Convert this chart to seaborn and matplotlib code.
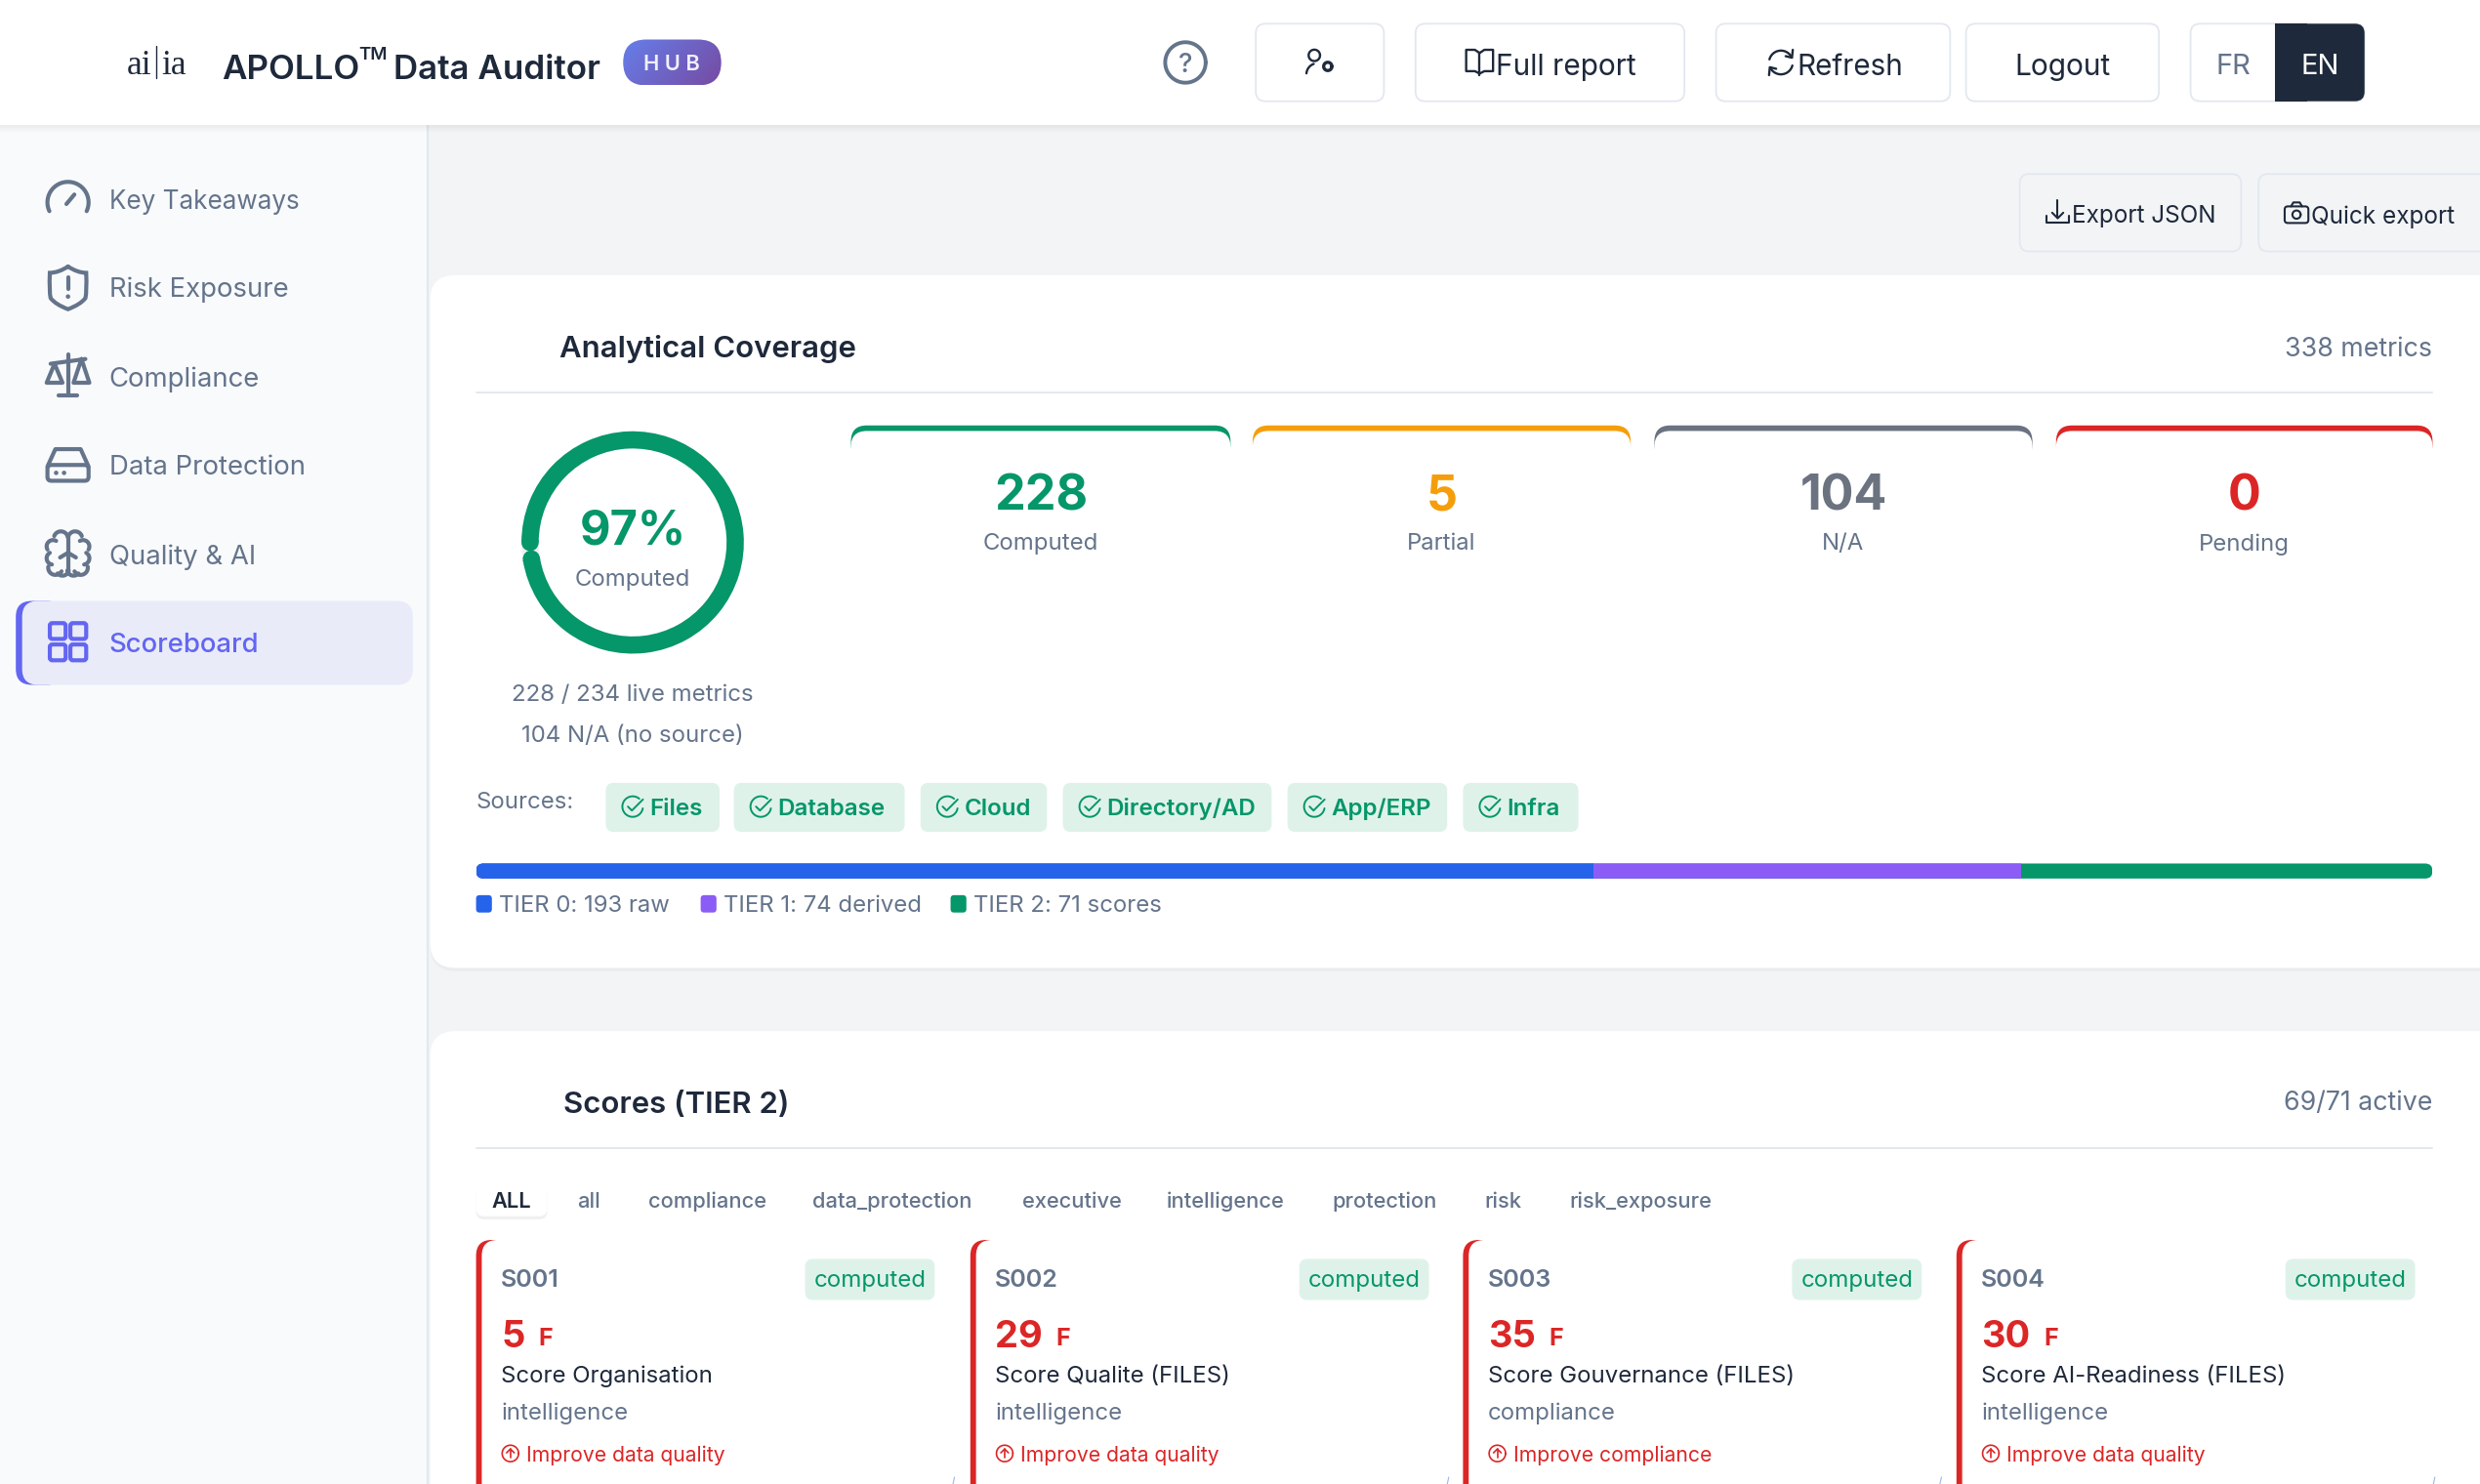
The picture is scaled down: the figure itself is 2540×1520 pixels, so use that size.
import numpy as np
import matplotlib
matplotlib.use("Agg")
import matplotlib.pyplot as plt
import seaborn as sns
from matplotlib.colors import LinearSegmentedColormap
from matplotlib.patches import Circle, FancyBboxPatch, PathPatch, Rectangle
from matplotlib.path import Path

# === Data ===
nav_labels = ["Key Takeaways", "Risk Exposure", "Compliance", "Data Protection", "Quality & AI", "Scoreboard"]
source_labels = ["Files", "Database", "Cloud", "Directory/AD", "App/ERP", "Infra"]
stat_values = [228, 5, 104, 0]
stat_labels = ["Computed", "Partial", "N/A", "Pending"]
live_metrics = 234
tier_names = ["TIER 0: 193 raw", "TIER 1: 74 derived", "TIER 2: 71 scores"]
tier_values = [193, 74, 71]
tab_labels = ["all", "compliance", "data_protection", "executive", "intelligence", "protection", "risk", "risk_exposure"]
score_ids = ["S001", "S002", "S003", "S004"]
score_values = [5, 29, 35, 30]
score_names = ["Score Organisation", "Score Qualite (FILES)", "Score Gouvernance (FILES)", "Score AI-Readiness (FILES)"]
score_cats = ["intelligence", "intelligence", "compliance", "intelligence"]
score_hints = ["Improve data quality", "Improve data quality", "Improve compliance", "Improve data quality"]

# === Colours ===
SLATE = "#64748b"
DARK = "#1e293b"
BORDER = "#e2e8f0"
GREEN = "#059669"
CHIP = "#dff2ea"
RED = "#dc2626"
INDIGO = "#6366f1"
stat_colors = [GREEN, "#f59e0b", "#6b7280", RED]
tier_colors = ["#2563eb", "#8b5cf6", GREEN]

sns.set_theme(style="white")
plt.rcParams["font.family"] = ["Inter", "Noto Sans", "DejaVu Sans"]

# all layout is in screenshot units, 1568 wide
W, H = 2540, 1520
S = W / 1568
fig = plt.figure(figsize=(W / 100, H / 100), dpi=100)
ax = fig.add_axes([0, 0, 1, 1])
ax.set_xlim(0, W / S)
ax.set_ylim(H / S, 0)
ax.axis("off")


# === Helpers ===
def T(x, y, s, size=14.8, color=SLATE, weight="normal", ha="left", **kw):
    return ax.text(x, y, s, fontsize=size * S * 0.72, color=color, fontweight=weight,
                   ha=ha, va="center_baseline", zorder=6, **kw)


def box(x0, y0, x1, y1, r=6, fc="white", ec="none", lw=1.3, z=2, alpha=None):
    p = FancyBboxPatch((x0, y0), x1 - x0, y1 - y0, boxstyle=f"round,pad=0,rounding_size={r}",
                       fc=fc, ec=ec, lw=lw, zorder=z, alpha=alpha)
    ax.add_patch(p)
    return p


def line(xs, ys, color=SLATE, lw=3, z=5):
    ax.plot(xs, ys, color=color, lw=lw, solid_capstyle="round", solid_joinstyle="round", zorder=z)


def arc(cx, cy, r, a0=0, a1=360, color=SLATE, lw=3, z=5):
    t = np.radians(np.linspace(a0, a1, 50))
    line(cx + r * np.cos(t), cy - r * np.sin(t), color, lw, z)


def dot(cx, cy, r=1.4, color=SLATE):
    ax.add_patch(Circle((cx, cy), r, fc=color, ec="none", zorder=5))


def curve(verts, color=SLATE, lw=3):
    codes = [Path.MOVETO] + [Path.CURVE3] * (len(verts) - 1)
    ax.add_patch(PathPatch(Path(verts, codes), fc="none", ec=color, lw=lw, zorder=5, capstyle="round"))


# === Nav icons ===
def icon_gauge(cx, cy):
    arc(cx, cy + 2, 13, -25, 205)
    line([cx - 1, cx + 4], [cy + 3, cy - 3])


def icon_shield(cx, cy):
    curve([(cx, cy - 13), (cx + 6, cy - 9), (cx + 11.5, cy - 9), (cx + 12, cy + 3), (cx + 11, cy + 7),
           (cx + 8, cy + 11), (cx, cy + 14), (cx - 8, cy + 11), (cx - 11, cy + 7), (cx - 12, cy + 3),
           (cx - 11.5, cy - 9), (cx - 6, cy - 9), (cx, cy - 13)])
    line([cx, cx], [cy - 6, cy + 1])
    dot(cx, cy + 6)


def icon_scales(cx, cy):
    line([cx, cx], [cy - 14, cy + 12])
    line([cx - 6, cx + 6], [cy + 12, cy + 12])
    line([cx - 11, cx + 11], [cy - 8, cy - 11])
    for sx, top in [(-8.5, -8), (8.5, -11)]:
        line([cx + sx, cx + sx - 5, cx + sx + 5, cx + sx], [cy + top, cy + 4, cy + 4, cy + top])


def icon_drive(cx, cy):
    box(cx - 13, cy, cx + 13, cy + 10, r=2.5, fc="none", ec=SLATE, lw=3, z=5)
    line([cx - 13, cx - 8, cx + 8, cx + 13], [cy + 1, cy - 10, cy - 10, cy + 1])
    dot(cx - 7.5, cy + 5)
    dot(cx - 2.5, cy + 5)


def icon_brain(cx, cy):
    for sgn in (-1, 1):
        for dx, dy, r, a0, a1 in [(4.5, -10, 4.5, 20, 170), (9.5, -5, 4, -30, 120),
                                  (9.5, 2.5, 4, -80, 60), (8, 8.5, 4.5, -150, 10), (3.5, 9.5, 4, -170, -40)]:
            if sgn > 0:
                arc(cx + dx, cy + dy, r, a0, a1)
            else:
                arc(cx - dx, cy + dy, r, 180 - a0, 180 - a1)
    line([cx, cx], [cy - 12, cy + 12])
    line([cx - 5, cx, cx + 5], [cy + 2, cy - 1, cy + 2])


def icon_grid(cx, cy):
    for x0 in (cx - 11.5, cx + 1.5):
        for y0 in (cy - 12, cy + 1.5):
            box(x0, y0, x0 + 10, y0 + 10, r=1.6, fc="none", ec=INDIGO, lw=3, z=5)


# === Small button icons ===
def icon_check(cx, cy, r=6.5, color=GREEN):
    arc(cx, cy, r, 50, 350, color, 1.4)
    line([cx - 3, cx - 0.5, cx + 6.5], [cy, cy + 2.5, cy - 4.5], color, 1.4)


def icon_up(cx, cy, color=RED):
    arc(cx, cy, 5.2, 0, 360, color, 1.2)
    line([cx, cx], [cy + 2.8, cy - 2.6], color, 1.2)
    line([cx - 2.4, cx, cx + 2.4], [cy - 0.4, cy - 2.8, cy - 0.4], color, 1.2)


def icon_user_gear(cx, cy):
    arc(cx - 3, cy - 4.5, 3.6, 0, 360, DARK, 1.7)
    arc(cx - 1, cy + 7.5, 7, 110, 175, DARK, 1.7)
    arc(cx + 5.5, cy + 2.5, 2.6, 0, 360, DARK, 2.4)


def icon_book(cx, cy):
    line([cx, cx], [cy - 6, cy + 8], DARK, 1.7)
    line([cx, cx - 3, cx - 8.5, cx - 8.5, cx - 3, cx], [cy - 6, cy - 8, cy - 8, cy + 5.5, cy + 5.5, cy + 7], DARK, 1.7)
    line([cx, cx + 3, cx + 8.5, cx + 8.5, cx + 3, cx], [cy - 6, cy - 8, cy - 8, cy + 5.5, cy + 5.5, cy + 7], DARK, 1.7)


def icon_refresh(cx, cy):
    arc(cx, cy, 7.5, 25, 165, DARK, 1.7)
    arc(cx, cy, 7.5, 205, 345, DARK, 1.7)
    line([cx + 3, cx + 7, cx + 7.5], [cy - 4, cy - 3, cy - 8], DARK, 1.7)
    line([cx - 3, cx - 7, cx - 7.5], [cy + 4, cy + 3, cy + 8], DARK, 1.7)


def icon_download(cx, cy):
    line([cx, cx], [cy - 8, cy + 3], DARK, 1.5)
    line([cx - 3.5, cx, cx + 3.5], [cy, cy + 3.5, cy], DARK, 1.5)
    line([cx - 7, cx - 7, cx + 7, cx + 7], [cy + 2, cy + 6.5, cy + 6.5, cy + 2], DARK, 1.5)


def icon_camera(cx, cy):
    box(cx - 7.5, cy - 4.5, cx + 7.5, cy + 6, r=2, fc="none", ec=DARK, lw=1.5, z=5)
    line([cx - 3.5, cx - 2, cx + 2, cx + 3.5], [cy - 4.5, cy - 7, cy - 7, cy - 4.5], DARK, 1.5)
    arc(cx, cy + 0.7, 2.6, 0, 360, DARK, 1.5)


# === Page background ===
ax.add_patch(Rectangle((0, 0), 1568, 940, fc="#f3f4f6", ec="none", zorder=0))
ax.add_patch(Rectangle((0, 79), 270, 861, fc="#f9fafc", ec="none", zorder=1))
line([270.5, 270.5], [79, 940], BORDER, 1.6, 1.5)

# header bar with soft shadow
ax.add_patch(Rectangle((0, 0), 1568, 79, fc="white", ec="none", zorder=3))
for i in range(1, 6):
    ax.add_patch(Rectangle((0, 79), 1568, i * 0.9, fc="black", ec="none", alpha=0.012, zorder=2.5))

T(80, 39.5, "ai", 22, DARK, family=["Liberation Serif"])
line([98.7, 98.7], [29, 49.5], DARK, 1)
T(102, 39.5, "ia", 22, DARK, family=["Liberation Serif"])
T(140, 42.5, "APOLLO", 21.6, DARK, "semibold")
T(226.5, 33.5, "TM", 11.5, DARK, "semibold")
T(249, 42.5, "Data Auditor", 21.6, DARK, "semibold")

hub = box(394, 25, 456, 54, r=14.5, fc="none", z=4)
grad = np.linspace(0, 1, 120)[None, :] + np.linspace(0, 0.4, 40)[:, None]
cmap = LinearSegmentedColormap.from_list("hub", ["#667eea", "#764ba2"])
im = ax.imshow(grad, extent=[394, 456, 54, 25], aspect="auto", cmap=cmap, zorder=4)
im.set_clip_path(hub)
ax.set_xlim(0, W / S)
ax.set_ylim(H / S, 0)
T(424.5, 39.5, "H U B", 13.5, "#eef0fb", "semibold", ha="center")

# top buttons
arc(749.5, 39.5, 12.8, 0, 360, SLATE, 2.8)
T(749.5, 39.5, "?", 17, SLATE, "medium", ha="center")
for x0, x1 in [(794, 875), (895, 1065), (1085, 1233), (1243, 1365), (1385, 1495)]:
    box(x0, 15, x1, 64, r=6, ec=BORDER, z=4)
icon_user_gear(834, 39.5)
icon_book(935.5, 39.5)
T(946, 40.5, "Full report", 18.4, DARK)
icon_refresh(1126, 39.5)
T(1136, 40.5, "Refresh", 18.3, DARK)
T(1304, 40.5, "Logout", 18.4, DARK, ha="center")
T(1412, 40.5, "FR", 18, SLATE, ha="center")
box(1450, 15, 1495, 64, r=6, fc=DARK, z=4.1)
ax.add_patch(Rectangle((1438.5, 15), 20, 49, fc=DARK, ec="none", zorder=4.2))
T(1467, 40.5, "EN", 18, "white", ha="center")

# export buttons
box(1277, 110, 1417, 159, r=6, fc="#f3f4f6", ec=BORDER, z=2)
box(1428, 110, 1580, 159, r=6, fc="#f3f4f6", ec=BORDER, z=2)
icon_download(1301, 134.5)
T(1310, 135.5, "Export JSON", 15, DARK)
icon_camera(1452, 135)
T(1461, 135.5, "Quick export", 15, DARK)

# === Sidebar ===
box(10, 380, 40, 433, r=10, fc=INDIGO, z=2)
box(14, 380, 261, 433, r=10, fc="#e9ebf9", z=2.1)
nav_y = [126, 181.5, 238, 294, 350.5, 406]
nav_icons = [icon_gauge, icon_shield, icon_scales, icon_drive, icon_brain, icon_grid]
for label, y, draw in zip(nav_labels, nav_y, nav_icons):
    draw(43, y)
    active = label == "Scoreboard"
    size = 16.1 if label == "Key Takeaways" else 17
    T(69, y, label, size, INDIGO if active else SLATE, "medium" if active else "normal")

# === Analytical Coverage card ===
box(272, 176, 1600, 614, r=16, fc="black", alpha=0.03, z=1.6)
box(272, 174, 1600, 612, r=16)
T(354, 219, "Analytical Coverage", 19.2, DARK, "semibold")
T(1538, 219, "338 metrics", 16.5, SLATE, ha="right")
line([301, 1538], [248, 248], BORDER, 1.4, 3)

# ring chart from computed / live
ring = fig.add_axes([(400 - 71) * S / W, 1 - (343 + 71) * S / H, 142 * S / W, 142 * S / H], zorder=5)
computed = stat_values[0]
ring.pie([computed, live_metrics - computed], colors=[GREEN, "#eef0f3"], startangle=180, counterclock=False,
         radius=1, wedgeprops={"width": 0.155, "linewidth": 0})
ring.set_xlim(-1.01, 1.01)
ring.set_ylim(-1.01, 1.01)
end = np.radians(180 - 360 * computed / live_metrics)
for a in (np.pi, end):
    ring.add_patch(Circle((0.9225 * np.cos(a), 0.9225 * np.sin(a)), 0.0775, fc=GREEN, ec="none", zorder=5))
T(400, 333, f"{round(100 * computed / live_metrics)}%", 30, GREEN, "bold", ha="center")
T(400, 365, stat_labels[0], 14.8, SLATE, ha="center")
T(400, 438, f"{computed} / {live_metrics} live metrics", 14.8, SLATE, ha="center")
T(400, 464, f"{stat_values[2]} N/A (no source)", 14.8, SLATE, ha="center")

# stat tiles
tile_x = [(538, 778), (792, 1031), (1046, 1285), (1300, 1538)]
for (x0, x1), val, lab, col in zip(tile_x, stat_values, stat_labels, stat_colors):
    box(x0, 269, x1, 291, r=10, fc=col, z=3)
    box(x0, 272.5, x1, 330, r=10, z=3.1)
    T((x0 + x1) / 2, 311, str(val), 31, col, "bold", ha="center")
    T((x0 + x1) / 2, 342.5, lab, 14.8, SLATE, ha="center")

# source chips
T(301, 506, "Sources:", 14.8, SLATE)
chip_x = [(383, 455), (464, 572), (582, 662), (672, 804), (814, 915), (925, 998)]
for (x0, x1), lab in zip(chip_x, source_labels):
    box(x0, 495, x1, 526, r=5, fc=CHIP, z=3)
    icon_check(x0 + 17, 510)
    T(x0 + 27.5, 510, lab, 14.9, GREEN, "semibold")

# tier bar, stacked by drawing cumulative totals longest first
bar_ax = fig.add_axes([301 * S / W, 1 - 555.5 * S / H, 1237 * S / W, 9.5 * S / H], zorder=5)
totals = np.cumsum(tier_values)
for total, col in list(zip(totals, tier_colors))[::-1]:
    sns.barplot(x=[total], y=["tier"], orient="h", color=col, saturation=1, width=1, ax=bar_ax,
                linewidth=0, edgecolor="none")
bar_ax.set_xlim(0, totals[-1])
bar_ax.axis("off")
bar_shape = box(301, 546, 1538, 555.5, r=4.7, fc="none", z=1)
for b in bar_ax.patches:
    b.set_clip_path(bar_shape)

legend_x = [301, 443, 601]
for x0, name, col in zip(legend_x, tier_names, tier_colors):
    box(x0, 566, x0 + 10, 577, r=2.2, fc=col, z=3)
    T(x0 + 14.5, 571.5, name, 14.75, SLATE)

# === Scores card ===
box(272, 654, 1600, 1000, r=16, fc="black", alpha=0.03, z=1.6)
box(272, 652, 1600, 1000, r=16)
T(356, 697, "Scores (TIER 2)", 19.2, DARK, "semibold")
T(1538, 695.5, "69/71 active", 16.5, SLATE, ha="right")
line([301, 1538], [726, 726], BORDER, 1.4, 3)

# filter tabs
box(301, 749, 346, 771, r=5, fc="black", alpha=0.06, z=2.5)
box(301, 747, 346, 769, r=5, z=2.6)
T(323.5, 758.5, "ALL", 13.5, DARK, "semibold", ha="center")
tab_x = [365, 410, 513.5, 646.5, 737.5, 842, 938.5, 992]
for x0, lab in zip(tab_x, tab_labels):
    T(x0, 758.5, lab, 13.5, SLATE, "medium")

# score cards
card_x = [301, 613.5, 925, 1237]
for x0, sid, val, name, cat, hint in zip(card_x, score_ids, score_values, score_names, score_cats, score_hints):
    box(x0, 784, x0 + 40, 980, r=10, fc=RED, z=2.2)
    box(x0 + 3.6, 784, x0 + 303, 980, r=10, z=2.3)
    tx = x0 + 15.7
    T(tx, 808, sid, 15.5, SLATE, "semibold")
    chip_end = x0 + 290
    box(chip_end - 82, 796, chip_end, 822, r=5, fc=CHIP, z=3)
    T(chip_end - 41, 808.5, "computed", 14.85, GREEN, ha="center")
    num = T(tx, 843, str(val), 23.5, RED, "bold")
    fig.canvas.draw()
    right = ax.transData.inverted().transform(num.get_window_extent().get_points())[1, 0]
    T(right + 8.5, 845, "F", 15.5, RED, "bold")
    T(tx, 869, name, 14.8, DARK)
    T(tx, 892, cat, 14.8, SLATE)
    icon_up(tx + 6, 919)
    T(tx + 16, 919, hint, 13, RED)
    line([x0 + 302.5, x0 + 301.5], [934, 938.5], "#9db7e8", 0.8, 3)

fig.savefig("out.png", dpi=100)
